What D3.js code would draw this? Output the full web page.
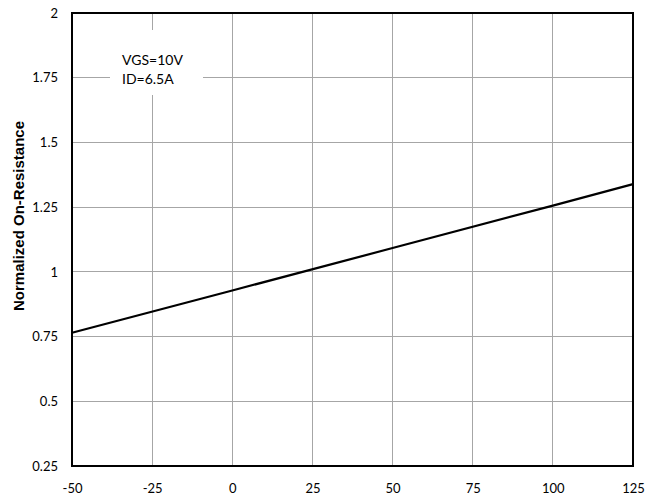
<!DOCTYPE html>
<html><head><meta charset="utf-8">
<script src="https://cdn.jsdelivr.net/npm/d3@7/dist/d3.min.js"></script>
<style>body{margin:0;background:#fff;}</style>
</head><body><svg id="c" width="647" height="499"></svg>
<script>
const temps = [-50, 0, 50, 100, 125];
const resistance = [0.765, 0.928, 1.092, 1.256, 1.339];
const xTicks = [-50, -25, 0, 25, 50, 75, 100, 125];
const yTicks = [0.25, 0.5, 0.75, 1, 1.25, 1.5, 1.75, 2];
const yTickLabels = ["0.25", "0.5", "0.75", "1", "1.25", "1.5", "1.75", "2"];
const notes = ["VGS=10V", "ID=6.5A"];
const yTitle = "Normalized On-Resistance";

const svg = d3.select("#c");
const L = 72, R = 633, T = 13, B = 466;
const x = d3.scaleLinear().domain([-50, 125]).range([L, R]);
const y = d3.scaleLinear().domain([0.25, 2]).range([B, T]);
const FF = "Lato,'Open Sans',sans-serif";

// grid
svg.append("g").selectAll("line").data(xTicks).join("line")
  .attr("x1", d => x(d)).attr("x2", d => x(d)).attr("y1", T).attr("y2", B)
  .attr("stroke", "#a6a6a6").attr("stroke-width", 1).attr("shape-rendering", "crispEdges");
svg.append("g").selectAll("line").data(yTicks).join("line")
  .attr("x1", L).attr("x2", R).attr("y1", d => y(d)).attr("y2", d => y(d))
  .attr("stroke", "#a6a6a6").attr("stroke-width", 1).attr("shape-rendering", "crispEdges");

// annotation box
svg.append("rect").attr("x", 110).attr("y", 30).attr("width", 93).attr("height", 65).attr("fill", "#fff");
svg.append("g").selectAll("text").data(notes).join("text")
  .attr("x", 122).attr("y", (d, i) => 65 + i * 18.5)
  .attr("font-size", 14).attr("fill", "#000").attr("font-family", FF).text(d => d);

// line
svg.append("path").datum(temps.map((t, i) => [t, resistance[i]]))
  .attr("d", d3.line().x(d => x(d[0])).y(d => y(d[1])))
  .attr("fill", "none").attr("stroke", "#000").attr("stroke-width", 2.2);

// border
svg.append("rect").attr("x", L).attr("y", T).attr("width", R - L).attr("height", B - T)
  .attr("fill", "none").attr("stroke", "#000").attr("stroke-width", 2);

// axes labels
const xa = svg.append("g").attr("transform", `translate(0,${B})`)
  .call(d3.axisBottom(x).tickValues(xTicks).tickSize(0).tickPadding(0).tickFormat(d => d));
xa.select(".domain").remove();
xa.attr("font-family", FF).attr("font-size", 13);
xa.selectAll("text").attr("fill", "#000").attr("dy", null).attr("y", 27);

const ya = svg.append("g").attr("transform", `translate(${L},0)`)
  .call(d3.axisLeft(y).tickValues(yTicks).tickSize(0).tickPadding(14).tickFormat((d, i) => yTickLabels[i]));
ya.select(".domain").remove();
ya.attr("font-family", FF).attr("font-size", 13);
ya.selectAll("text").attr("fill", "#000");

svg.append("text").attr("transform", `translate(24,216) rotate(-90)`)
  .attr("text-anchor", "middle").attr("font-size", 15).attr("font-weight", "bold")
  .attr("font-family", "'Liberation Sans', Arial, sans-serif").attr("fill", "#000").text(yTitle);
</script></body></html>
